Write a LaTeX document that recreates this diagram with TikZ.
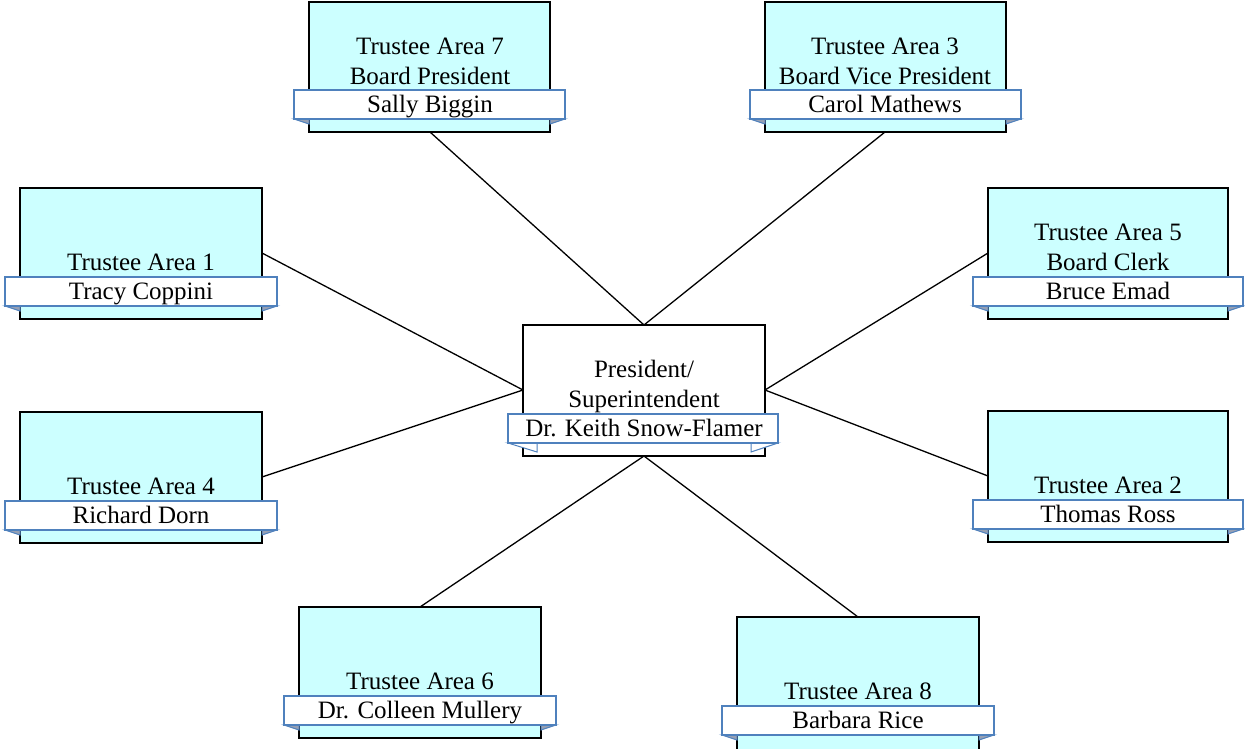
\documentclass[tikz,border=0pt]{standalone}
\usepackage{fontspec}
\setmainfont{Liberation Serif}
\definecolor{boxcyan}{RGB}{204,255,255}
\definecolor{ribbonedge}{RGB}{79,129,189}
\definecolor{foldgray}{RGB}{150,160,180}
\tikzset{
  every node/.style={font=\fontsize{25}{30}\selectfont},
  trustee/.style={draw=black, line width=1.3pt, fill=boxcyan},
  chief/.style={draw=black, line width=1.3pt, fill=white},
  ribbon/.style={draw=ribbonedge, line width=1.2pt, fill=white},
  fold/.style={draw=ribbonedge, line width=1pt, fill=foldgray},
  link/.style={draw=black, line width=1.3pt},
  lbl/.style={inner sep=0pt, anchor=base, align=center}
}
% one member box: #1 name, #2 left, #3 top, #4 right, #5 bottom, #6 ribbon top, #7 fold depth
\newcommand{\memberbox}[8]{%
  \path[#8] (#2,-#3) rectangle (#4,-#5);
  \coordinate (#1-n) at ({(#2+#4)/2},-#3);
  \coordinate (#1-s) at ({(#2+#4)/2},-#5);
  \coordinate (#1-w) at (#2,{-(#3+#5)/2});
  \coordinate (#1-e) at (#4,{-(#3+#5)/2});
  \path[fold] (#2-15,-#6-29) -- (#2+#7,-#6-29) -- (#2+#7,-#6-29-5) -- cycle;
  \path[fold] (#4+15,-#6-29) -- (#4-#7,-#6-29) -- (#4-#7,-#6-29-5) -- cycle;
  \path[ribbon] (#2-15,-#6) rectangle (#4+15,-#6-29);
}
\begin{document}
\begin{tikzpicture}[x=1pt,y=1pt]
\useasboundingbox (0,0) rectangle (1245,-748);

% connectors first, boxes are drawn over their ends
\coordinate (c-n) at (644,-325);
\coordinate (c-s) at (644,-456);
\coordinate (c-w) at (523,-390);
\coordinate (c-e) at (765,-390);
\coordinate (a7-s) at (430,-132);
\coordinate (a3-s) at (885,-132);
\coordinate (a1-e) at (262,-253);
\coordinate (a4-e) at (262,-477);
\coordinate (a5-w) at (988,-253);
\coordinate (a2-w) at (988,-476);
\coordinate (a6-n) at (420,-607);
\coordinate (a8-n) at (858,-617);
\draw[link] (a7-s) -- (c-n);
\draw[link] (a3-s) -- (c-n);
\draw[link] (a1-e) -- (c-w);
\draw[link] (a4-e) -- (c-w);
\draw[link] (a5-w) -- (c-e);
\draw[link] (a2-w) -- (c-e);
\draw[link] (a6-n) -- (c-s);
\draw[link] (a8-n) -- (c-s);

% trustee boxes
\memberbox{b7}{309}{2}{550}{132}{90}{0}{trustee}
\memberbox{b3}{765}{2}{1006}{132}{90}{0}{trustee}
\memberbox{b1}{20}{188}{262}{319}{277}{0}{trustee}
\memberbox{b5}{988}{188}{1228}{319}{277}{0}{trustee}
\memberbox{b4}{20}{412}{262}{543}{501}{0}{trustee}
\memberbox{b2}{988}{411}{1228}{542}{500}{0}{trustee}
\memberbox{b6}{299}{607}{541}{738}{696}{0}{trustee}
\memberbox{b8}{737}{617}{979}{752}{706}{0}{trustee}

% superintendent box
\path[chief] (523,-325) rectangle (765,-456);
\path[fold, fill=white] (508,-443) -- (537,-443) -- (537,-452) -- cycle;
\path[fold, fill=white] (778,-443) -- (751,-443) -- (751,-452) -- cycle;
\path[ribbon] (508,-414) rectangle (778,-443);

% labels
\node[lbl] (t7a) at (430,-54) {Trustee Area 7};
\node[lbl] (t7b) at (430,-84) {Board President};
\node[lbl] (t7c) at (430,-112) {Sally Biggin};
\node[lbl] (t3a) at (885,-54) {Trustee Area 3};
\node[lbl] (t3b) at (885,-84) {Board Vice President};
\node[lbl] (t3c) at (885,-112) {Carol Mathews};
\node[lbl] (t1a) at (141,-270) {Trustee Area 1};
\node[lbl] (t1c) at (141,-299) {Tracy Coppini};
\node[lbl] (t5a) at (1108,-240) {Trustee Area 5};
\node[lbl] (t5b) at (1108,-270) {Board Clerk};
\node[lbl] (t5c) at (1108,-299) {Bruce Emad};
\node[lbl] (cta) at (644,-377) {President/};
\node[lbl] (ctb) at (644,-407) {Superintendent};
\node[lbl] (ctc) at (644,-436) {Dr. Keith Snow-Flamer};
\node[lbl] (t4a) at (141,-494) {Trustee Area 4};
\node[lbl] (t4c) at (141,-523) {Richard Dorn};
\node[lbl] (t2a) at (1108,-493) {Trustee Area 2};
\node[lbl] (t2c) at (1108,-522) {Thomas Ross};
\node[lbl] (t6a) at (420,-689) {Trustee Area 6};
\node[lbl] (t6c) at (420,-718) {Dr. Colleen Mullery};
\node[lbl] (t8a) at (858,-699) {Trustee Area 8};
\node[lbl] (t8c) at (858,-728) {Barbara Rice};
\end{tikzpicture}
\end{document}
